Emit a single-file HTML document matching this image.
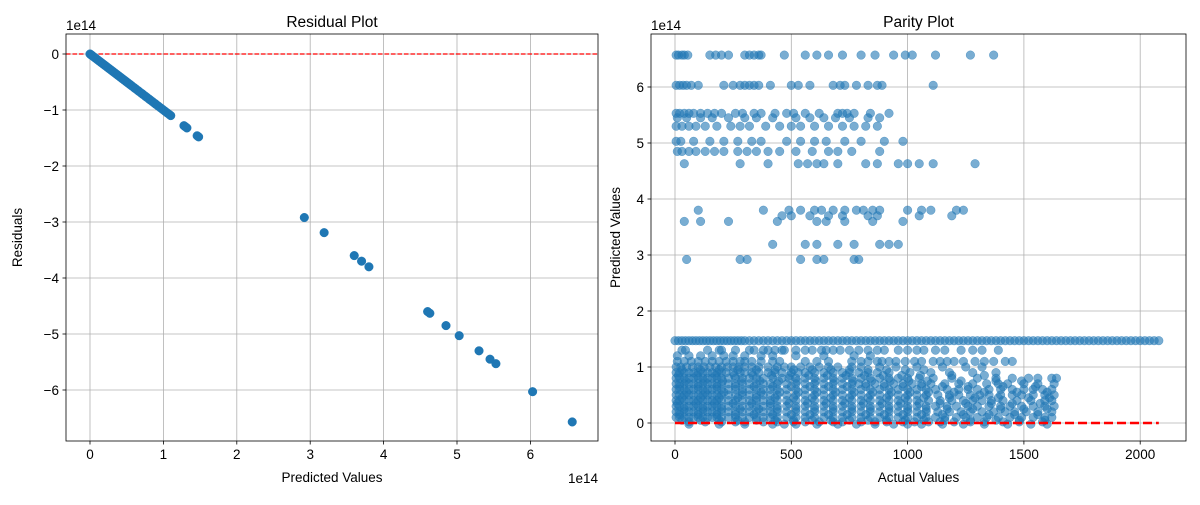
<!DOCTYPE html>
<html><head><meta charset="utf-8"><style>
body{margin:0;background:#fff}
text{font-family:"Liberation Sans","DejaVu Sans",sans-serif;fill:#000}
</style></head><body>
<svg id="svg" width="1200" height="500" xmlns="http://www.w3.org/2000/svg">
<rect width="1200" height="500" fill="#fff"/>
<g id="left"></g>
<g id="right"></g>
</svg>
<script>
// Residual plot data (units of 1e14)
const residPred = [0,0.01,0.02,0.03,0.05,0.07,0.09,0.11,0.13,0.15,0.17,0.19,0.21,0.23,0.25,0.27,0.29,0.31,0.33,0.35,0.37,0.39,0.41,0.43,0.45,0.47,0.49,0.51,0.53,0.55,0.57,0.6,0.62,0.65,0.67,0.7,0.72,0.75,0.77,0.8,0.82,0.85,0.88,0.9,0.93,0.96,0.99,1.02,1.05,1.08,1.1,1.28,1.3,1.32,1.46,1.48,2.92,3.19,3.6,3.7,3.8,4.6,4.63,4.85,5.03,5.3,5.45,5.53,6.03,6.57];
const residVal = residPred.map(v=>-v);
const leftXTicks=[0,1,2,3,4,5,6];
const leftYTicks=[0,-1,-2,-3,-4,-5,-6];
// Parity plot data: predicted levels (1e14) and actual values at each level
const parityLevels=[6.57,6.03,5.53,5.45,5.3,5.03,4.85,4.63,3.8,3.7,3.6,3.19,2.92,1.47,1.3,1.2,1.1,1.0,0.9,0.8,0.7,0.6,0.5,0.4,0.3,0.2,0.1,0.02,
  0.95,0.85,0.75,0.65,0.55,0.45,0.35,0.25,0.15,0.05,-0.02];
const parityActuals=[
[5,15,30,40,55,150,175,200,230,300,320,340,360,370,470,560,610,660,720,800,860,940,990,1020,1120,1270,1370],
[5,20,35,50,70,100,210,250,280,300,320,340,360,410,500,530,580,680,710,730,780,830,870,890,1110],
[5,20,40,60,80,110,140,170,200,260,290,340,370,430,480,510,560,620,700,720,740,770,840,920],
[10,50,110,160,230,300,350,420,520,580,640,690,750,830,880],
[5,30,60,90,130,180,240,280,320,390,450,500,540,600,660,720,770,820,870],
[5,25,80,150,210,270,330,370,480,540,600,650,730,800,900,980],
[10,30,60,90,130,170,210,270,310,350,400,450,520,590,660,700,760,880],
[40,280,400,530,570,610,640,700,820,870,960,1000,1050,1110,1290],
[100,380,490,540,600,630,680,730,780,810,850,880,1000,1060,1100,1210,1240],
[460,500,580,660,720,830,870,1050,1190],
[40,110,230,440,610,650,730,850,980],
[420,560,610,700,770,880,920,960],
[50,280,310,540,610,640,770,790],
[0,15,30,45,60,75,90,105,120,135,150,165,180,195,210,225,240,255,270,285,300,320,340,360,380,400,420,440,460,480,500,520,540,560,580,600,620,640,660,680,700,720,740,760,780,800,820,840,860,880,900,920,940,960,980,1000,1020,1040,1060,1080,1100,1120,1140,1160,1180,1200,1220,1240,1260,1280,1300,1320,1340,1360,1380,1400,1420,1440,1460,1480,1500,1520,1540,1560,1580,1600,1620,1640,1660,1680,1700,1720,1740,1760,1780,1800,1820,1840,1860,1880,1900,1920,1940,1960,1980,2000,2020,2040,2060,2080],
[30,45,140,190,200,260,320,340,380,400,430,460,470,520,560,590,630,650,680,710,750,790,830,870,900,960,1000,1040,1070,1120,1160,1230,1280,1320,1390],
[10,60,110,160,210,250,300,370,420,520,640,770,840],
[10,40,70,100,130,160,190,220,250,280,300,330,370,420,450,560,610,660,760,800,830,870,890,920,950,990,1030,1060,1110,1140,1170,1200,1240,1290,1330,1370,1420,1450],
[5,25,50,75,100,125,150,175,200,225,250,275,300,330,360,400,440,470,500,540,580,620,660,700,760,800,880,950,1040,1150,1250,1320],
[5,20,40,60,80,100,120,140,160,180,200,220,250,280,300,330,360,400,430,460,500,530,560,600,640,680,720,750,790,830,870,920,1010,1100,1180,1280,1380],
[5,20,40,60,80,100,120,140,160,180,200,230,260,290,320,350,380,420,460,490,520,560,600,640,680,720,760,800,840,880,920,960,1000,1050,1110,1190,1300,1380,1450,1520,1560,1620,1640],
[5,20,40,60,80,100,120,140,160,180,200,230,260,290,320,350,380,410,440,480,520,560,600,640,680,720,760,790,820,860,900,940,980,1020,1060,1100,1160,1220,1280,1340,1390,1430,1500,1560,1630],
[5,20,40,60,80,100,120,140,160,180,200,230,260,290,320,350,380,410,440,480,520,560,600,640,680,720,760,800,840,880,920,960,1000,1040,1080,1120,1170,1220,1260,1300,1350,1400,1450,1500,1540,1580,1620],
[5,20,40,60,80,100,120,140,160,180,200,230,260,290,320,350,380,410,440,480,520,560,600,640,680,720,760,800,840,880,920,960,1000,1040,1080,1130,1180,1220,1270,1310,1350,1400,1450,1490,1540,1590,1630],
[5,20,40,60,80,100,120,140,160,180,200,230,260,290,320,350,380,410,440,480,520,560,600,640,680,720,760,800,840,880,920,960,1000,1040,1090,1140,1190,1240,1280,1320,1360,1410,1470,1530,1590,1620],
[5,20,40,60,80,100,120,140,160,180,200,230,260,290,320,350,380,410,440,480,520,560,600,640,680,720,760,800,840,880,920,960,1000,1040,1080,1120,1170,1210,1260,1300,1350,1400,1440,1490,1540,1590,1630],
[5,20,40,60,80,100,120,140,160,180,200,230,260,290,320,350,380,410,440,480,520,560,600,640,680,720,760,800,840,880,920,960,1000,1040,1080,1130,1180,1230,1270,1320,1370,1420,1460,1510,1560,1620],
[5,20,40,60,80,100,120,140,160,180,200,230,260,290,320,350,380,410,440,480,520,560,600,640,680,720,760,800,840,880,920,960,1000,1040,1080,1120,1160,1210,1250,1300,1340,1390,1440,1490,1540,1590,1620],
[60,130,200,260,300,380,440,510,560,620,680,720,800,860,910,980,1030,1090,1140,1200,1270,1330,1410,1480,1580],
[30,110,190,270,350,430,510,590,670,750,830,910,990,1070],
[15,95,175,255,335,415,495,575,655,735,815,895,975,1055,1190,1330],
[45,125,205,285,365,445,525,605,685,765,845,925,1005,1085,1230,1380,1490],
[20,100,180,260,340,420,500,580,660,740,820,900,980,1060,1150,1260,1410,1550],
[50,130,210,290,370,450,530,610,690,770,850,930,1010,1090,1200,1330,1470,1600],
[30,110,190,270,350,430,510,590,670,750,830,910,990,1070,1180,1290,1390,1520,1610],
[10,90,170,250,330,410,490,570,650,730,810,890,970,1050,1140,1250,1360,1450,1570],
[40,120,200,280,360,440,520,600,680,760,840,920,1000,1080,1170,1280,1400,1500,1600],
[20,100,180,260,340,420,500,580,660,740,820,900,980,1060,1150,1240,1350,1460,1560],
[30,110,190,270,350,430,510,590,670,750,830,910,990,1070,1160,1270,1380,1480,1590],
[60,190,300,420,470,520,610,700,780,860,940,1000,1060,1150,1240,1330,1430,1530,1600]
];
const parityX=[0,500,1000,1500,2000];
const parityY=[0,1,2,3,4,5,6];
const parityLineX=[0,2080];

const NS='http://www.w3.org/2000/svg';
function mk(tag,attrs,parent,txt){const e=document.createElementNS(NS,tag);for(const k in attrs)e.setAttribute(k,attrs[k]);if(txt!==undefined)e.textContent=txt;parent.appendChild(e);return e;}

const L={x0:66,x1:598,y0:34,y1:441,ylx:22};
const lx=v=>90+v*73.4, ly=v=>54-v*56;
const R={x0:651,x1:1186,y0:34,y1:441,ylx:620};
const rx=v=>675+v*0.2326, ry=v=>423-v*56;

function axes(g,A,xt,yt,fx,fy,xlab,ylab,title,xfmt,yfmt){
  const grid=mk('g',{},g);
  
  
  xt.forEach(t=>{const x=fx(t);mk('line',{x1:x,x2:x,y1:A.y0,y2:A.y1,stroke:'#b0b0b0','stroke-width':0.8},grid);
    mk('line',{x1:x,x2:x,y1:A.y1,y2:A.y1+3.5,stroke:'#000','stroke-width':0.8},g);
    const tl=mk('text',{x:x,y:A.y1+18,'text-anchor':'middle','font-size':13.5},g,xfmt(t));
    
    });
  yt.forEach(t=>{const y=fy(t);mk('line',{x1:A.x0,x2:A.x1,y1:y,y2:y,stroke:'#b0b0b0','stroke-width':0.8},grid);
    mk('line',{x1:A.x0-3.5,x2:A.x0,y1:y,y2:y,stroke:'#000','stroke-width':0.8},g);
    const tl=mk('text',{x:A.x0-7,y:y+5,'text-anchor':'end','font-size':13.5},g,yfmt(t));
    
    });
  const t1=mk('text',{x:(A.x0+A.x1)/2,y:A.y0-7,'text-anchor':'middle','font-size':15.5},g,title);
  
  
  const t2=mk('text',{x:(A.x0+A.x1)/2,y:482,'text-anchor':'middle','font-size':13.5},g,xlab);
  
  
  const cy=(A.y0+A.y1)/2, cx=A.ylx;
  const t3=mk('text',{x:cx,y:cy,'text-anchor':'middle','font-size':13.5,transform:`rotate(-90 ${cx} ${cy})`},g,ylab);
  
  
  const o=mk('text',{x:A.x0,y:A.y0-4,'font-size':13.5},g,'1e14');
  
  
}
function frame(g,A){const f=mk('rect',{x:A.x0,y:A.y0,width:A.x1-A.x0,height:A.y1-A.y0,fill:'none',stroke:'#000','stroke-width':0.8},g);
  
  }

const fmtMinus=t=>t<0?'\u2212'+(-t):String(t);
const gl=document.getElementById('left');
axes(gl,L,leftXTicks,leftYTicks,lx,ly,'Predicted Values','Residuals','Residual Plot',String,fmtMinus);
const xo=mk('text',{x:L.x1,y:483,'text-anchor':'end','font-size':13.5},gl,'1e14');


const clipL=mk('clipPath',{id:'cl'},gl);mk('rect',{x:L.x0,y:L.y0,width:L.x1-L.x0,height:L.y1-L.y0},clipL);
const zl=mk('line',{x1:L.x0,x2:L.x1,y1:ly(0),y2:ly(0),stroke:'#ff0000','stroke-width':1.2,'stroke-dasharray':'4.5,2'},gl);


const ptsL=mk('g',{'clip-path':'url(#cl)'},gl);


residPred.forEach((p,i)=>{const c=mk('circle',{cx:lx(p),cy:ly(residVal[i]),r:4.3,fill:'#1f77b4',stroke:'#1f77b4','stroke-width':0.5},ptsL);
  
  });
frame(gl,L);

const gr=document.getElementById('right');
axes(gr,R,parityX,parityY,rx,ry,'Actual Values','Predicted Values','Parity Plot',String,String);
const ptsR=mk('g',{},gr);


parityLevels.forEach((lv,i)=>{parityActuals[i].forEach(a=>{
  const c=mk('circle',{cx:rx(a),cy:ry(lv),r:4.3,fill:'#1f77b4','fill-opacity':0.6,stroke:'#1f77b4','stroke-opacity':0.6,'stroke-width':0.5},ptsR);
  
  });});
const pl=mk('line',{x1:rx(parityLineX[0]),x2:rx(parityLineX[1]),y1:ry(parityLineX[0]/1e14),y2:ry(parityLineX[1]/1e14),stroke:'#ff0000','stroke-width':2.5,'stroke-dasharray':'9,4'},gr);


frame(gr,R);
</script>
</body></html>
